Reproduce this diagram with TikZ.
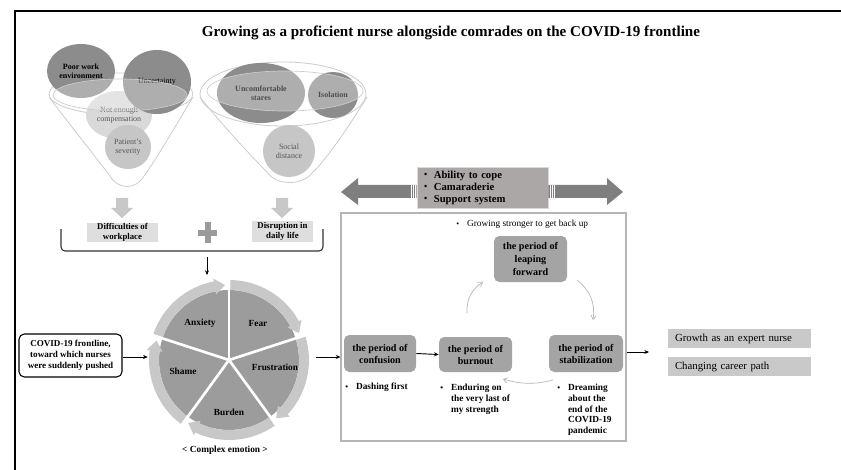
\documentclass[tikz,border=0pt]{standalone}
\usepackage{fontspec}
\setmainfont{Liberation Serif}
\usetikzlibrary{arrows.meta,shapes.geometric}
\definecolor{darkc}{HTML}{8C8C8C}
\definecolor{lightc}{HTML}{D9D9D9}
\definecolor{midc}{HTML}{C6C6C6}
\definecolor{funnelc}{HTML}{CCCCCC}
\definecolor{arrfill}{HTML}{C8C8C8}
\definecolor{plusc}{HTML}{9A9A9A}
\definecolor{sectc}{HTML}{9C9C9C}
\definecolor{ringc}{HTML}{C8C8C8}
\definecolor{boxc}{HTML}{DEDEDE}
\definecolor{pboxc}{HTML}{A4A4A4}
\definecolor{abilc}{HTML}{ABA7A7}
\definecolor{dblc}{HTML}{7F7F7F}
\definecolor{outc}{HTML}{C9C9C9}
\definecolor{frmc}{HTML}{B5B5B5}
\definecolor{txtg}{HTML}{555555}
\newcommand\bul{\raisebox{0.05ex}{\scalebox{0.85}{\textbullet}}}
\begin{document}
\begin{tikzpicture}[x=0.75pt,y=-0.75pt,
  circ/.style={ellipse, inner sep=0, align=center, font=\fontsize{6}{7}\selectfont},
  circd/.style={circ, fill=darkc, font=\fontsize{6}{7}\selectfont\bfseries},
  lbox/.style={rectangle, fill=boxc, inner sep=0, align=center, font=\fontsize{6.6}{7.6}\selectfont\bfseries},
  pbox/.style={rectangle, rounded corners=4pt, fill=pboxc, inner sep=0, align=center, font=\fontsize{7.6}{9}\selectfont\bfseries},
  btxt/.style={inner sep=0, align=left, font=\fontsize{7}{8}\selectfont\bfseries},
  obox/.style={rectangle, fill=outc, inner xsep=5.25pt, inner ysep=0, text width=96.75pt, minimum height=14.25pt, align=left, font=\fontsize{8.1}{9}\selectfont},
  pielbl/.style={inner sep=0, font=\fontsize{7}{8}\selectfont\bfseries},
  arr/.style={-{Stealth[length=3.5pt,width=3pt]}, line width=0.7pt},
  carr/.style={-{Straight Barb[length=3pt,width=4pt]}, draw=frmc, line width=0.5pt},
  downarr/.pic={\fill[arrfill] (-6,0) -- (6,0) -- (6,10) -- (11,10) -- (0,20) -- (-11,10) -- (-6,10) -- cycle;}
]
\useasboundingbox (0,0) rectangle (841,470);
\fill[white] (0,0) rectangle (841,470);
% frame
\draw[line width=2.2pt] (15,470) -- (15,11) -- (841,11);
% title
\node[font=\fontsize{11.3}{13}\selectfont\bfseries] (title) at (451,33) {Growing as a proficient nurse alongside comrades on the COVID-19 frontline};

% left funnel
\draw[funnelc, line width=0.6pt, fill=white] (49,97) .. controls (70,125) and (98,160) .. (110,176) .. controls (118,190) and (136,190) .. (144,176) .. controls (156,160) and (176,125) .. (193,97);
\draw[funnelc, line width=0.6pt] (121,94) ellipse [x radius=72, y radius=21];
\node[circ, fill=lightc, text=txtg, minimum width=49.5pt, minimum height=36pt] (comp) at (119,115) {Not enough\\compensation};
\node[circd, minimum width=51pt, minimum height=40.5pt] (poor) at (81,71) {Poor work\\environment};
\node[circd, minimum width=51pt, minimum height=48pt, font=\fontsize{6}{7}\selectfont] (unc) at (157,82) {Uncertainty};
\node[circ, fill=midc, text=txtg, minimum width=34.5pt, minimum height=33pt] (sev) at (128,147) {Patient's\\severity};
\draw[funnelc, line width=0.5pt, fill=white, fill opacity=0.3] (120,95) ellipse [x radius=67, y radius=16];

% right funnel
\draw[funnelc, line width=0.6pt, fill=white] (200,97) .. controls (222,125) and (255,160) .. (267,172) .. controls (276,186) and (303,186) .. (313,172) .. controls (326,160) and (350,125) .. (367,97);
\draw[funnelc, line width=0.6pt] (283,94) ellipse [x radius=83, y radius=32];
\node[circd, minimum width=66pt, minimum height=45pt] (stares) at (261,93) {Uncomfortable\\stares};
\node[circd, minimum width=37.5pt, minimum height=34.5pt] (iso) at (333,95) {Isolation};
\node[circ, fill=midc, text=txtg, minimum width=39pt, minimum height=39pt] (soc) at (289,151) {Social\\distance};
\draw[funnelc, line width=0.5pt, fill=white, fill opacity=0.3] (285,91) ellipse [x radius=78, y radius=20];

% block arrows
\pic at (122,198) {downarr};
\pic at (282,198) {downarr};

% boxes
\node[lbox, minimum width=53.25pt, minimum height=14.25pt] (diff) at (122.5,232.5) {Difficulties of\\workplace};
\node[lbox, minimum width=45.75pt, minimum height=15.75pt] (disr) at (282.5,231.5) {Disruption in\\daily life};
% plus
\fill[plusc] (205,222) rectangle (211,243);
\fill[plusc] (198,230) rectangle (217,236);
% bracket
\draw[line width=0.8pt, draw=black!80, rounded corners=3pt] (61,229) -- (61,251) -- (323,251) -- (323,229);
\coordinate (brA) at (207,257);
\coordinate (brB) at (207,275);
\draw[arr, line width=0.5pt] (brA) -- (brB);

% pie
\node[circle, inner sep=0, minimum size=121.5pt] (pie) at (229,360) {};
\begin{scope}[shift={(229,360)}, x=0.75pt, y=0.75pt]
  \foreach \a in {162,90,18,-54,-126} {
    \fill[sectc] (0,0) -- (\a:70) arc[start angle=\a, end angle=\a-72, radius=70] -- cycle;
    \fill[ringc] (\a-1:70) arc[start angle=\a-1, end angle=\a-61, radius=70] -- (\a-61:67) -- (\a-69:75) -- (\a-61:83) -- (\a-61:80) arc[start angle=\a-61, end angle=\a-1, radius=80] -- cycle;
  }
  \foreach \a in {162,90,18,-54,-126} {
    \draw[white, line width=2pt] (0,0) -- (\a:86);
  }
\end{scope}
\node[pielbl] (anx) at (200,323) {Anxiety};
\node[pielbl] (fear) at (258,323) {Fear};
\node[pielbl] (frus) at (275,367) {Frustration};
\node[pielbl] (burd) at (229,412) {Burden};
\node[pielbl] (shame) at (183,371) {Shame};
\node[font=\fontsize{7}{8}\selectfont\bfseries] (cplx) at (225,450) {< Complex emotion >};

% covid box
\node[rectangle, rounded corners=4pt, draw=black, line width=0.8pt, minimum width=77.25pt, minimum height=32.25pt, inner sep=0, align=center, font=\fontsize{6.8}{8.2}\selectfont\bfseries] (covid) at (70.5,355.5) {COVID-19 frontline,\\toward which nurses\\were suddenly pushed};
\draw[arr] (covid.east |- 0,357) -- (pie.west |- 0,357);

% ability box and double arrow
\node[rectangle, fill=abilc, draw=black!15, line width=0.6pt, minimum width=98.25pt, minimum height=30.75pt, text width=87.75pt, inner xsep=5.25pt, inner ysep=0, align=left, font=\fontsize{8}{9}\selectfont\bfseries] (abil) at (482.5,187.5) {\bul\hspace{5pt}Ability to cope\\\bul\hspace{5pt}Camaraderie\\\bul\hspace{5pt}Support system};
\fill[dblc] (abil.west |- 0,185) -- (358,185) -- (358,178) -- (341,192) -- (358,205) -- (358,198) -- (abil.west |- 0,198) -- cycle;
\fill[dblc] (abil.east |- 0,185) -- (607,185) -- (607,178) -- (623,192) -- (607,205) -- (607,198) -- (abil.east |- 0,198) -- cycle;
\draw[white, line width=0.4pt] (411,185) -- (411,198) (413.5,185) -- (413.5,198) (415.5,185) -- (415.5,198);
\draw[white, line width=0.4pt] (550,185) -- (550,198) (552,185) -- (552,198) (554.5,185) -- (554.5,198);

% period box
\node[rectangle, draw=frmc, line width=0.8pt, minimum width=213.75pt, minimum height=171pt, inner sep=0] (period) at (483.5,327) {};
\draw[arr] (pie.east |- 0,357) ++(6,0) coordinate (pieout) -- (period.west |- pieout);

\node[inner sep=0, anchor=west, font=\fontsize{7}{8}\selectfont] (grow) at (456,224) {\bul\hspace{6pt}Growing stronger to get back up};
\node[pbox, minimum width=54.75pt, minimum height=34.5pt, font=\fontsize{7.6}{10}\selectfont\bfseries] (leap) at (530.5,259) {the period of\\leaping\\forward};
\node[pbox, minimum width=54pt, minimum height=27.75pt] (conf) at (380,353.5) {the period of\\confusion};
\node[pbox, minimum width=54.75pt, minimum height=26.25pt] (burn) at (475.5,354.5) {the period of\\burnout};
\node[pbox, minimum width=55.5pt, minimum height=27.75pt] (stab) at (586,353.5) {the period of\\stabilization};
\draw[arr] (conf.east) -- (burn.west);

\coordinate (c1) at (467,313);
\coordinate (c2) at (483,282);
\coordinate (c3) at (577,280);
\coordinate (c4) at (593,320);
\coordinate (c5) at (553,380);
\coordinate (c6) at (503,379);
\draw[carr] (c1) to[bend left=30] (c2);
\draw[carr] (c3) to[bend left=30] (c4);
\draw[carr] (c5) to[bend left=15] (c6);

\node[btxt, anchor=west] (dash) at (345,387) {\bul\hspace{6pt}Dashing first};
\node[btxt, anchor=north west] (endu) at (440,383) {\begin{tabular}{@{}l@{\hspace{6pt}}l@{}}\bul & Enduring on\\ & the very last of\\ & my strength\end{tabular}};
\node[btxt, anchor=north west] (dream) at (557,383) {\begin{tabular}{@{}l@{\hspace{6pt}}l@{}}\bul & Dreaming\\ & about the\\ & end of the\\ & COVID-19\\ & pandemic\end{tabular}};

% outcome
\coordinate (outend) at (649,352);
\draw[arr] (period.east |- outend) -- (outend);
\node[obox] (expert) at (739.5,338.5) {Growth as an expert nurse};
\node[obox] (career) at (739.5,366.5) {Changing career path};
\end{tikzpicture}
\end{document}
